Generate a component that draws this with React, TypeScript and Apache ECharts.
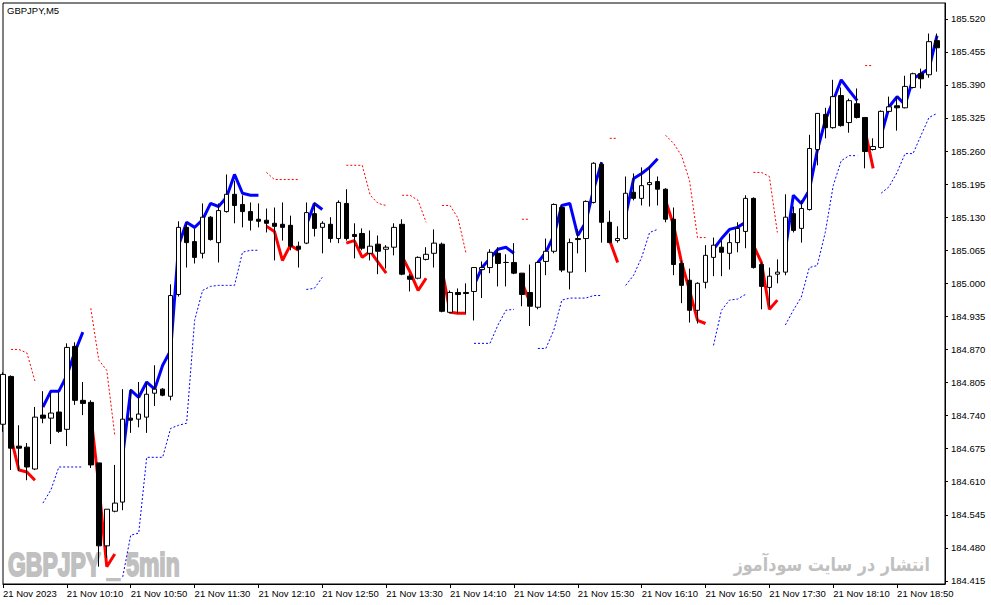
import React, { useEffect, useRef } from 'react';
import * as echarts from 'echarts';

// GBPJPY M5 candles, 21 Nov 2023 from 09:30
const opens = [
  184.723, 184.817, 184.68, 184.678, 184.635, 184.741, 184.735, 184.747, 184.713, 184.876,
  184.77, 184.766, 184.647, 184.484, 184.552, 184.57, 184.735, 184.733, 184.737, 184.784,
  184.792, 184.778, 184.978, 185.11, 185.082, 185.059, 185.13, 185.08, 185.141, 185.175,
  185.155, 185.141, 185.126, 185.124, 185.118, 185.116, 185.114, 185.073, 185.079, 185.137,
  185.11, 185.116, 185.088, 185.157, 185.096, 185.098, 185.059, 185.077, 185.067, 185.071,
  185.116, 185.014, 185.01, 185.047, 185.059, 185.077, 184.943, 184.982, 184.982, 184.984,
  185.027, 185.031, 185.059, 185.041, 185.041, 185.02, 184.982, 184.953, 185.043, 185.063,
  185.149, 185.022, 185.088, 185.088, 185.159, 185.234, 185.12, 185.084, 185.088, 185.179,
  185.167, 185.194, 185.2, 185.185, 185.126, 185.039, 185.006, 184.947, 185.002, 185.051,
  185.071, 185.059, 185.08, 185.102, 185.167, 185.037, 184.992, 185.018, 185.022, 185.137,
  185.108, 185.145, 185.263, 185.332, 185.306, 185.369, 185.316, 185.353, 185.326, 185.263,
  185.267, 185.338, 185.349, 185.345, 185.385, 185.412, 185.41, 185.477,
];
const closes = [
  184.821, 184.676, 184.676, 184.639, 184.737, 184.735, 184.745, 184.709, 184.874, 184.77,
  184.764, 184.643, 184.484, 184.556, 184.568, 184.733, 184.731, 184.743, 184.782, 184.792,
  184.78, 184.976, 185.11, 185.08, 185.051, 185.13, 185.086, 185.143, 185.175, 185.153,
  185.141, 185.124, 185.122, 185.118, 185.112, 185.11, 185.073, 185.067, 185.139, 185.108,
  185.118, 185.088, 185.159, 185.088, 185.092, 185.069, 185.073, 185.063, 185.071, 185.11,
  185.018, 185.008, 185.051, 185.057, 185.079, 184.945, 184.982, 184.978, 184.98, 185.031,
  185.031, 185.061, 185.039, 185.041, 185.02, 184.978, 184.955, 185.041, 185.063, 185.155,
  185.026, 185.08, 185.086, 185.161, 185.236, 185.12, 185.08, 185.088, 185.177, 185.167,
  185.192, 185.198, 185.185, 185.126, 185.037, 184.996, 184.947, 185.0, 185.055, 185.075,
  185.061, 185.08, 185.108, 185.167, 185.031, 184.994, 185.014, 185.022, 185.13, 185.104,
  185.147, 185.265, 185.334, 185.306, 185.367, 185.31, 185.359, 185.326, 185.259, 185.269,
  185.338, 185.347, 185.345, 185.387, 185.412, 185.402, 185.475, 185.463,
];
const lows = [
  184.708, 184.633, 184.631, 184.613, 184.633, 184.725, 184.684, 184.706, 184.68, 184.761,
  184.741, 184.637, 184.443, 184.46, 184.55, 184.554, 184.706, 184.717, 184.706, 184.759,
  184.778, 184.77, 184.974, 185.031, 185.039, 185.049, 185.084, 185.041, 185.139, 185.118,
  185.11, 185.104, 185.11, 185.1, 185.045, 185.084, 185.065, 185.031, 185.077, 185.092,
  185.059, 185.08, 185.079, 185.084, 185.049, 185.065, 185.045, 185.018, 185.029, 185.055,
  185.016, 184.984, 185.008, 185.045, 185.031, 184.943, 184.941, 184.941, 184.941, 184.927,
  184.971, 185.02, 184.994, 184.994, 185.018, 184.955, 184.916, 184.949, 185.016, 185.059,
  185.022, 184.988, 185.059, 185.022, 185.157, 185.08, 185.079, 185.08, 185.086, 185.163,
  185.153, 185.151, 185.153, 185.12, 185.016, 184.961, 184.923, 184.921, 184.99, 185.014,
  185.014, 185.027, 185.061, 185.069, 185.029, 184.949, 184.953, 185.0, 185.016, 185.1,
  185.08, 185.143, 185.232, 185.285, 185.304, 185.308, 185.296, 185.324, 185.226, 185.261,
  185.265, 185.336, 185.3, 185.344, 185.383, 185.383, 185.404, 185.416,
];
const highs = [
  184.825, 184.819, 184.721, 184.686, 184.757, 184.788, 184.784, 184.786, 184.882, 184.884,
  184.806, 184.77, 184.647, 184.556, 184.643, 184.792, 184.792, 184.806, 184.806, 184.839,
  184.794, 184.998, 185.122, 185.12, 185.108, 185.157, 185.132, 185.157, 185.214, 185.202,
  185.173, 185.159, 185.157, 185.147, 185.149, 185.159, 185.133, 185.082, 185.159, 185.159,
  185.122, 185.13, 185.163, 185.185, 185.118, 185.108, 185.104, 185.094, 185.075, 185.118,
  185.126, 185.018, 185.053, 185.071, 185.106, 185.08, 184.986, 184.99, 185.0, 185.031,
  185.043, 185.067, 185.071, 185.057, 185.079, 185.02, 185.037, 185.043, 185.088, 185.157,
  185.153, 185.088, 185.106, 185.163, 185.238, 185.238, 185.143, 185.112, 185.21, 185.216,
  185.228, 185.23, 185.21, 185.187, 185.149, 185.045, 185.029, 185.002, 185.075, 185.09,
  185.084, 185.098, 185.12, 185.173, 185.169, 185.041, 185.031, 185.047, 185.175, 185.151,
  185.163, 185.292, 185.334, 185.345, 185.4, 185.385, 185.363, 185.383, 185.326, 185.285,
  185.34, 185.367, 185.367, 185.408, 185.414, 185.422, 185.491, 185.491,
];

// indicator segments: [first bar index, values]
const blueTrend: [number, number[]][] = [
  [5, [184.757, 184.788, 184.788, 184.819, 184.865, 184.904]],
  [15, [184.662, 184.79, 184.776, 184.806, 184.792, 184.839, 184.868, 185.075, 185.12, 185.11,
    185.125, 185.157, 185.151, 185.169, 185.214, 185.177, 185.173, 185.173]],
  [38, [185.114, 185.157, 185.145]],
  [59, [184.996, 185.031, 185.049, 185.067, 185.071, 185.059]],
  [67, [185.041, 185.061, 185.094, 185.153, 185.157, 185.094, 185.12, 185.186, 185.238]],
  [78, [185.133, 185.206, 185.216, 185.228, 185.245]],
  [89, [185.067, 185.088, 185.106, 185.11, 185.12]],
  [98, [185.065, 185.173, 185.157, 185.183, 185.261, 185.32, 185.359, 185.4, 185.379, 185.359]],
  [110, [185.291, 185.347, 185.367, 185.351, 185.402, 185.412, 185.422, 185.487]],
];
const redTrend: [number, number[]][] = [
  [1, [184.696, 184.633, 184.629, 184.613]],
  [11, [184.741, 184.603, 184.443, 184.468]],
  [33, [185.112, 185.102, 185.045, 185.075, 185.065]],
  [43, [185.079, 185.084, 185.051, 185.063, 185.041, 185.02]],
  [50, [185.053, 185.022, 184.986, 185.01]],
  [55, [185.026, 184.943, 184.941, 184.941]],
  [65, [185.002, 184.963]],
  [76, [185.084, 185.041]],
  [83, [185.163, 185.114, 185.041, 184.986, 184.927, 184.921]],
  [94, [185.075, 185.041, 184.949, 184.967]],
  [108, [185.3, 185.226]],
];
const redStop: [number, number[]][] = [
  [1, [184.87, 184.87, 184.863, 184.808]],
  [11, [184.951, 184.849, 184.829, 184.702]],
  [33, [185.218, 185.204, 185.204, 185.204, 185.204]],
  [43, [185.232, 185.232, 185.232, 185.173, 185.157, 185.153]],
  [50, [185.173, 185.173, 185.163, 185.12]],
  [55, [185.153, 185.153, 185.128, 185.059]],
  [65, [185.126, 185.126]],
  [76, [185.285, 185.285]],
  [83, [185.291, 185.275, 185.251, 185.202, 185.09, 185.09]],
  [94, [185.218, 185.218, 185.21, 185.1]],
  [108, [185.428, 185.428]],
];
const blueStop: [number, number[]][] = [
  [5, [184.568, 184.594, 184.639, 184.639, 184.639, 184.639]],
  [15, [184.423, 184.505, 184.509, 184.658, 184.658, 184.658, 184.715, 184.721, 184.725, 184.927,
    184.986, 184.994, 184.996, 184.996, 184.996, 185.061, 185.065, 185.065]],
  [38, [184.988, 184.99, 185.012]],
  [59, [184.882, 184.882, 184.882, 184.918, 184.947, 184.949]],
  [67, [184.872, 184.872, 184.908, 184.967, 184.971, 184.971, 184.971, 184.976, 184.976]],
  [78, [184.996, 185.016, 185.051, 185.1, 185.106]],
  [89, [184.878, 184.947, 184.967, 184.969, 184.978]],
  [98, [184.918, 184.947, 184.973, 185.031, 185.035, 185.1, 185.192, 185.241, 185.251, 185.251]],
  [110, [185.177, 185.19, 185.218, 185.255, 185.255, 185.291, 185.326, 185.334]],
];

const timeLabels = [
  '21 Nov 2023', '21 Nov 10:10', '21 Nov 10:50', '21 Nov 11:30', '21 Nov 12:10',
  '21 Nov 12:50', '21 Nov 13:30', '21 Nov 14:10', '21 Nov 14:50', '21 Nov 15:30',
  '21 Nov 16:10', '21 Nov 16:50', '21 Nov 17:30', '21 Nov 18:10', '21 Nov 18:50',
];
const priceTicks = [
  184.415, 184.48, 184.545, 184.61, 184.675, 184.74, 184.805, 184.87, 184.935,
  185.0, 185.065, 185.13, 185.195, 185.26, 185.325, 185.39, 185.455, 185.52,
];

const LABEL_EVERY = 8;
// one empty slot after the last bar, like the terminal's right shift
const slots = opens.length + 1;
const categories = Array.from({ length: slots }, (_, i) => {
  const m = 9 * 60 + 30 + i * 5;
  return `${String(Math.floor(m / 60)).padStart(2, '0')}:${String(m % 60).padStart(2, '0')}`;
});

const expand = (segs: [number, number[]][]) => {
  const out: (number | null)[] = new Array(slots).fill(null);
  segs.forEach(([start, vals]) => vals.forEach((v, k) => { out[start + k] = v; }));
  return out;
};

const axisFont = { fontSize: 9.5, fontFamily: '"Liberation Sans", Arial, sans-serif', color: '#000' };

const App: React.FC = () => {
  const chartRef = useRef<HTMLDivElement>(null);

  useEffect(() => {
    if (!chartRef.current) return;
    const chart = echarts.init(chartRef.current, undefined, { renderer: 'svg' });

    const candles = opens.map((o, i) => [o, closes[i], lows[i], highs[i]]);
    const line = (data: (number | null)[], color: string, width: number, dotted: boolean) => ({
      type: 'line' as const,
      data,
      symbol: 'none',
      silent: true,
      z: 2,
      lineStyle: { color, width, type: dotted ? [2, 2] : 'solid' },
    });

    const option: any = {
      animation: false,
      backgroundColor: '#fff',
      grid: {
        left: 3, top: 3, right: 46, bottom: 21,
        show: true, borderColor: '#000', borderWidth: 1,
      },
      xAxis: {
        type: 'category',
        data: categories,
        boundaryGap: false,
        axisLine: { lineStyle: { color: '#000', width: 1 } },
        axisTick: {
          interval: (i: number) => i % LABEL_EVERY === 0,
          length: 4,
          lineStyle: { color: '#000' },
        },
        axisLabel: {
          ...axisFont,
          interval: (i: number) => i % LABEL_EVERY === 0,
          formatter: (_v: string, i: number) => timeLabels[i / LABEL_EVERY] ?? '',
          align: 'left',
          margin: 4,
        },
        splitLine: { show: false },
      },
      yAxis: {
        type: 'value',
        position: 'right',
        min: 184.409,
        max: 185.551,
        axisLine: { show: true, lineStyle: { color: '#000', width: 1 } },
        axisTick: { show: true, length: 3, customValues: priceTicks, lineStyle: { color: '#000' } },
        axisLabel: {
          ...axisFont,
          customValues: priceTicks,
          formatter: (v: number) => v.toFixed(3),
          margin: 6,
        },
        splitLine: { show: false },
      },
      graphic: [
        {
          type: 'text', left: 7, top: 5,
          style: { text: 'GBPJPY,M5', fill: '#000', font: '9.5px "Liberation Sans", Arial, sans-serif' },
        },
        {
          type: 'text', x: 8, y: 564, scaleX: 0.675, z: 0,
          style: {
            text: 'GBPJPY _ 5min', fill: '#c0c0c0', stroke: '#c0c0c0', lineWidth: 2,
            verticalAlign: 'middle',
            font: 'bold 34px "Liberation Sans", Arial, sans-serif',
          },
        },
        {
          type: 'text', x: 930, y: 565, scaleX: 0.84, z: 0,
          style: {
            text: 'انتشار در سایت سودآموز', fill: '#c0c0c0', align: 'right', verticalAlign: 'middle',
            font: 'bold 19px "DejaVu Sans", sans-serif',
          },
        },
      ],
      series: [
        line(expand(blueStop), '#0000ff', 1, true),
        line(expand(redStop), '#ff0000', 1, true),
        line(expand(blueTrend), '#0000ff', 3, false),
        line(expand(redTrend), '#ff0000', 3, false),
        {
          type: 'candlestick',
          data: candles,
          barWidth: 5,
          z: 5,
          silent: true,
          itemStyle: {
            color: '#ffffff',
            color0: '#000000',
            borderColor: '#000000',
            borderColor0: '#000000',
            borderWidth: 1,
          },
        },
      ],
    };

    chart.setOption(option);
    return () => chart.dispose();
  }, []);

  return (
    <div style={{ position: 'absolute', left: 0, top: 0, width: 991, height: 605, background: '#fff' }}>
      <div ref={chartRef} style={{ width: 991, height: 605 }} />
    </div>
  );
};

export default App;
